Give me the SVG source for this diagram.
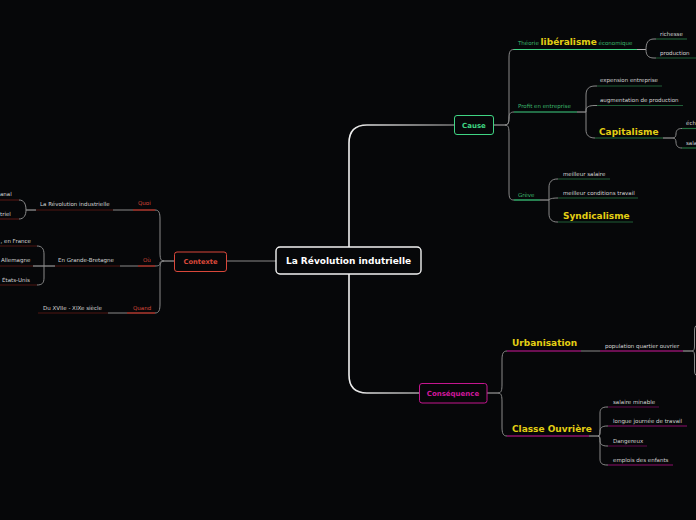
<svg xmlns="http://www.w3.org/2000/svg" width="696" height="520" viewBox="0 0 696 520">
<defs>
<style>
text{font-family:"DejaVu Sans","Liberation Sans",sans-serif}
.s{font-size:5.5px;fill:#d6d6d6}
.g{font-size:5.5px;fill:#3cb86c}
.r{font-size:5.5px;fill:#d9473a}
.y{font-size:9px;font-weight:bold;fill:#e3cf14}
.c{fill:none;stroke:#8a8a8a;stroke-width:1}
.cl{fill:none;stroke:#b5b5b5;stroke-width:1}
.ul{fill:none;stroke-width:1.2}
.gb{stroke:#3fd483}
.gd{stroke:#1f5e37}
.gm{stroke:#24703f}
.rb{stroke:#d9473a}
.rd{stroke:#4e1713}
.mb{stroke:#d0189c}
.md{stroke:#62094c}
.mm{stroke:#8e0f6c}
</style>
<linearGradient id="tr" gradientUnits="userSpaceOnUse" x1="349" y1="0" x2="454" y2="0">
<stop offset="0" stop-color="#f0f0f0"/><stop offset="1" stop-color="#777"/>
</linearGradient>
</defs>
<rect width="696" height="520" fill="#060709"/>

<g id="connectors">
<path d="M349,247 L349,143 Q349,125 367,125 L454,125" fill="none" stroke="url(#tr)" stroke-width="1.6"/>
<path d="M349,274 L349,375 Q349,393 367,393 L419,393" fill="none" stroke="url(#tr)" stroke-width="1.6"/>
<path class="c" d="M227,261 L276,261"/>
<!-- Contexte fork -->
<path class="cl" d="M174,261 L164,261"/>
<path class="c" d="M164,261 C160.5,261 160,258 160,252 L160,219 C160,213 159,210 155,210"/>
<path class="c" d="M164,261 C160.5,261 160,262 160,263.5 C160,265 159,266 155,266"/>
<path class="c" d="M164,261 C160.5,261 160,264 160,270 L160,304 C160,310 159,313 155,313"/>
<path class="c" d="M113,210 L133,210 M120,266 L138,266 M108,313 L127,313"/>
<path class="cl" d="M26,210 L36,210 M33,266 L55,266"/>
<path class="c" d="M26,210 C26,204 24,200 19,200 M26,210 C26,215 24,219 19,219"/>
<path class="c" d="M44,266 L44,254 C44,249 42,246 37,246 M44,266 L44,278 C44,283 42,285 37,285"/>
<!-- Cause fork -->
<path class="cl" d="M494,125 L505,125"/>
<path class="c" d="M505,125 C508.5,125 509,122 509,116 L509,58 C509,52 510,49.5 514,49.5"/>
<path class="c" d="M505,125 C508.5,125 509,122 509,118 C509,114 510,112 514,112"/>
<path class="c" d="M505,125 C508.5,125 509,128 509,134 L509,192 C509,198 510,200 514,200"/>
<path class="cl" d="M637,49.5 L646,49.5 M577,112 L586,112 M663,138 L673,138 M540,200 L549,200"/>
<path class="c" d="M646,49.5 C646,43 648,39 654,39 L656,39 M646,49.5 C646,55 648,58 654,58 L656,58"/>
<path class="c" d="M586,112 L586,95 C586,89 589,86 595,86 L597,86 M586,112 L586,110 C586,107 589,105.5 595,105.5 L597,105.5 M586,112 L586,130 C586,135 589,138 595,138"/>
<path class="c" d="M673,138 C675,138 676,136 676,134 C676,130 678,128.5 682,128.5 M673,138 C675,138 676,140 676,142 C676,146 678,148 682,148"/>
<path class="c" d="M549,200 L549,187 C549,182 552,179 557,179 L558,179 M549,200 C549,199 552,198 558,198 M549,200 L549,214 C549,219 552,222 557,222 L558,222"/>
<!-- Consequence fork -->
<path class="cl" d="M487,393 L498,393"/>
<path class="c" d="M498,393 C501.5,393 502,390 502,384 L502,360 C502,354 503,351 507,351"/>
<path class="c" d="M498,393 C501.5,393 502,396 502,402 L502,427 C502,433 503,436 507,436"/>
<path class="c" d="M581,351 L600,351"/>
<path class="cl" d="M683,351 L692,351 M589,436 L598,436"/>
<path class="c" d="M692,351 C694,351 694.5,349 694.5,346 L694.5,331 C694.5,328 695,326 697,325 M692,351 C694,351 694.5,353 694.5,356 L694.5,370 C694.5,373 695,375 697,376"/>
<path class="c" d="M598,436 C600,436 600,433 600,428 L600,413 C600,409 602,407 607,407 L608,407 M598,436 C600,436 600,434 600,431 C600,428 602,426 607,426 L608,426 M598,436 C600,436 600,438 600,441 C600,444 602,446 607,446 L608,446 M598,436 C600,436 600,439 600,444 L600,459 C600,463 602,465 607,465 L608,465"/>
</g>

<g id="central">
<rect x="276" y="247" width="145" height="27" rx="4" fill="#060709" stroke="#f2f2f2" stroke-width="1.4"/>
<text x="348.5" y="264" text-anchor="middle" style="font-size:9px;font-weight:bold;fill:#fff">La Révolution indutrielle</text>
</g>

<g id="contexte">
<rect x="174.5" y="252" width="52" height="19.5" rx="2.5" fill="#060709" stroke="#d9473a" stroke-width="1"/>
<text x="200.5" y="264" text-anchor="middle" style="font-size:6.7px;font-weight:bold;fill:#d9473a">Contexte</text>
</g>
<g id="quoi"><line class="ul rb" x1="133" y1="210" x2="155" y2="210"/><text class="r" x="138" y="205">Quoi</text></g>
<g id="revolution"><line class="ul rd" x1="36" y1="210" x2="113" y2="210"/><text class="s" x="40" y="206">La Révolution industrielle</text></g>
<g id="anal"><line class="ul rd" x1="0" y1="200" x2="19" y2="200"/><text class="s" x="0" y="196">anal</text></g>
<g id="triel"><line class="ul rd" x1="0" y1="219" x2="19" y2="219"/><text class="s" x="0" y="215.5">triel</text></g>
<g id="ou"><line class="ul rb" x1="138" y1="266" x2="155" y2="266"/><text class="r" x="143" y="262">Où</text></g>
<g id="grande-bretagne"><line class="ul rd" x1="55" y1="266" x2="120" y2="266"/><text class="s" x="58" y="262">En Grande-Bretagne</text></g>
<g id="france"><line class="ul rd" x1="0" y1="246" x2="37" y2="246"/><text class="s" x="0.5" y="243">, en France</text></g>
<g id="allemagne"><line class="ul rd" x1="0" y1="266" x2="33" y2="266"/><text class="s" x="1" y="262">Allemagne</text></g>
<g id="etats-unis"><line class="ul rd" x1="0" y1="285" x2="37" y2="285"/><text class="s" x="2" y="282">États-Unis</text></g>
<g id="quand"><line class="ul rb" x1="127" y1="313" x2="155" y2="313"/><text class="r" x="133" y="309.5">Quand</text></g>
<g id="siecle"><line class="ul rd" x1="38" y1="313" x2="108" y2="313"/><text class="s" x="43" y="309.5">Du XVIIe - XIXe siècle</text></g>

<g id="cause">
<rect x="454.5" y="115.5" width="39" height="19" rx="2.5" fill="#060709" stroke="#3fd483" stroke-width="1"/>
<text x="474" y="127.5" text-anchor="middle" style="font-size:7px;font-weight:bold;fill:#3fd483">Cause</text>
</g>
<g id="theorie"><line class="ul gb" x1="514" y1="49.5" x2="637" y2="49.5"/><text class="g" x="518" y="45">Théorie <tspan class="y">libéralisme</tspan> économique</text></g>
<g id="richesse"><line class="ul gd" x1="656" y1="39" x2="687" y2="39"/><text class="s" x="660" y="36">richesse</text></g>
<g id="production"><line class="ul gd" x1="656" y1="58" x2="696" y2="58"/><text class="s" x="660" y="55">production</text></g>
<g id="profit"><line class="ul gb" x1="514" y1="112" x2="577" y2="112"/><text class="g" x="518" y="108">Profit en entreprise</text></g>
<g id="expension"><line class="ul gd" x1="597" y1="86" x2="662" y2="86"/><text class="s" x="600" y="82">expension entreprise</text></g>
<g id="augmentation"><line class="ul gd" x1="597" y1="105.5" x2="683" y2="105.5"/><text class="s" x="600" y="102">augmentation de production</text></g>
<g id="capitalisme"><line class="ul gm" x1="595" y1="138" x2="663" y2="138"/><text class="y" x="599" y="134.5">Capitalisme</text></g>
<g id="ech"><line class="ul gm" x1="682" y1="128.5" x2="696" y2="128.5"/><text class="s" x="686" y="125">éch</text></g>
<g id="sala"><line class="ul gm" x1="682" y1="148" x2="696" y2="148"/><text class="s" x="686" y="144.5">sala</text></g>
<g id="greve"><line class="ul gb" x1="514" y1="200" x2="540" y2="200"/><text class="g" x="518" y="197">Grève</text></g>
<g id="salaire"><line class="ul gd" x1="558" y1="179" x2="610" y2="179"/><text class="s" x="563" y="175.5">meilleur salaire</text></g>
<g id="conditions"><line class="ul gd" x1="558" y1="198" x2="638" y2="198"/><text class="s" x="563" y="195">meilleur conditions travail</text></g>
<g id="syndicalisme"><line class="ul gd" x1="558" y1="222" x2="633" y2="222"/><text class="y" x="563" y="218.5">Syndicalisme</text></g>

<g id="consequence">
<rect x="419.5" y="383.5" width="67.5" height="19.5" rx="2.5" fill="#060709" stroke="#c4168f" stroke-width="1"/>
<text x="453" y="395.5" text-anchor="middle" style="font-size:7px;font-weight:bold;fill:#d0189c">Conséquence</text>
</g>
<g id="urbanisation"><line class="ul mb" x1="507" y1="351" x2="581" y2="351"/><text class="y" x="512" y="345.5">Urbanisation</text></g>
<g id="population"><line class="ul mb" x1="600" y1="351" x2="683" y2="351"/><text class="s" x="605" y="347.5">population quartier ouvrier</text></g>
<g id="classe"><line class="ul mb" x1="507" y1="436" x2="589" y2="436"/><text class="y" x="512" y="431.5">Classe Ouvrière</text></g>
<g id="minable"><line class="ul md" x1="608" y1="407" x2="659" y2="407"/><text class="s" x="613" y="403.5">salaire minable</text></g>
<g id="journee"><line class="ul mm" x1="608" y1="426" x2="687" y2="426"/><text class="s" x="613" y="423">longue journée de travail</text></g>
<g id="dangereux"><line class="ul md" x1="608" y1="446" x2="647" y2="446"/><text class="s" x="613" y="442.5">Dangereux</text></g>
<g id="enfants"><line class="ul mm" x1="608" y1="465" x2="673" y2="465"/><text class="s" x="613" y="462">emplois des enfants</text></g>
</svg>
